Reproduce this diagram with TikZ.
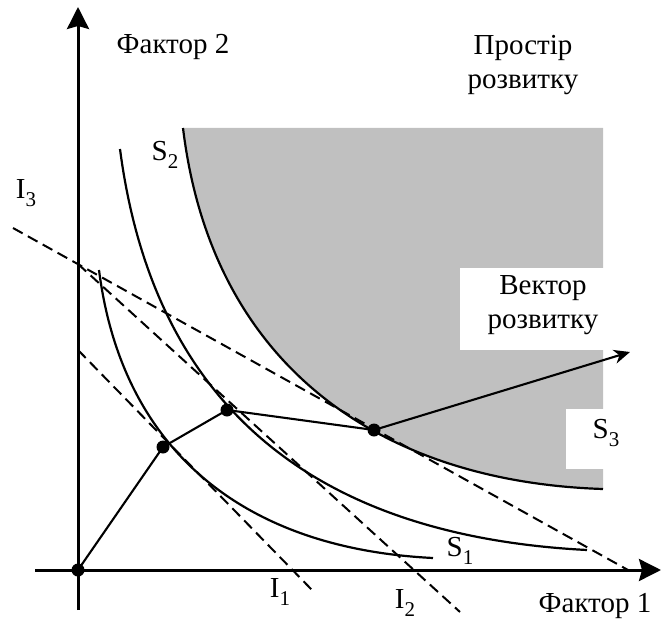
\documentclass[tikz,border=0pt]{standalone}
\usepackage{fontspec}
\setmainfont{Liberation Serif}
\usetikzlibrary{arrows.meta}
\definecolor{regiongray}{RGB}{192,192,192}
\newcommand{\lbl}[2]{#1\raisebox{-0.28em}{\fontsize{21}{21}\selectfont #2}}
\begin{document}
\begin{tikzpicture}[x=1pt,y=-1pt,
  axis/.style={line width=3pt,-{Stealth[length=22pt,width=22pt,inset=3pt]}},
  curve/.style={line width=2.2pt},
  dline/.style={line width=2pt,dash pattern=on 11pt off 6pt},
  pathline/.style={line width=2.1pt},
  dot/.style={circle,fill=black,inner sep=0pt,minimum size=13pt},
  txt/.style={font=\fontsize{29}{34}\selectfont,inner sep=0pt,align=center}]
\useasboundingbox (0,0) rectangle (661,623);
% shaded region
\fill[regiongray] (183,128) -- (603,128) -- (603,489)
  .. controls (383,482) and (212,368) .. (183,128) -- cycle;
\fill[white] (460,268) rectangle (604,350);
\fill[white] (566,409) rectangle (604,469);
% coordinates
\coordinate (O) at (78,570);
\coordinate (ytop) at (78,7);
\coordinate (ybot) at (78,610);
\coordinate (xl) at (35,570);
\coordinate (xr) at (661,570);
\coordinate (I3a) at (13,228);
\coordinate (I3b) at (628,570);
\coordinate (I2a) at (78,264);
\coordinate (I2b) at (460,612);
\coordinate (I1a) at (78,350);
\coordinate (I1b) at (312,590);
\coordinate (V) at (630,352);
\coordinate (S3a) at (183,128);
\coordinate (S3b) at (603,489);
\coordinate (S2a) at (120,149);
\coordinate (S2b) at (587,550);
\coordinate (S1a) at (99,270);
\coordinate (S1b) at (433,558);
% axes
\draw[axis] (ybot) -- (ytop);
\draw[axis] (xl) -- (xr);
% curves
\draw[curve] (S3a) .. controls (212,368) and (383,482) .. (S3b);
\draw[curve] (S2a) .. controls (154,409) and (317,536) .. (S2b);
\draw[curve] (S1a) .. controls (122,450) and (243,548.5) .. (S1b);
% dashed lines
\draw[dline] (I3a) -- (I3b);
\draw[dline] (I2a) -- (I2b);
\draw[dline] (I1a) -- (I1b);
% points
\node[dot] (P0) at (O) {};
\node[dot] (P1) at (163,447) {};
\node[dot] (P2) at (227,410) {};
\node[dot] (P3) at (374,430) {};
\draw[pathline] (P0.center) -- (P1.center) -- (P2.center) -- (P3.center);
\draw[pathline,-{Stealth[length=16pt,width=14pt,inset=5pt]}] (P3.center) -- (V);
% labels
\node[txt] (f2) at (173,47) {Фактор 2};
\node[txt] (pr) at (523,65) {Простір\\розвитку};
\node[txt] (vr) at (543,305) {Вектор\\розвитку};
\node[txt] (s3) at (606,433) {\lbl{S}{3}};
\node[txt] (s2) at (165,155) {\lbl{S}{2}};
\node[txt] (s1) at (460,551) {\lbl{S}{1}};
\node[txt] (i3) at (26,193) {\lbl{I}{3}};
\node[txt] (i1) at (280,592) {\lbl{I}{1}};
\node[txt] (i2) at (405,603) {\lbl{I}{2}};
\node[txt] (f1) at (595,606) {Фактор 1};
\end{tikzpicture}
\end{document}
